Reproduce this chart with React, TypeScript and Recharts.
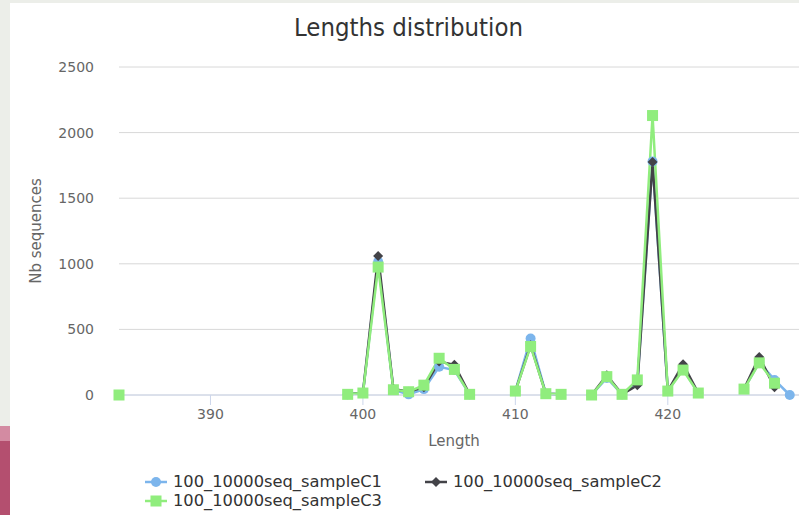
import React from "react";
import { LineChart, Line, XAxis, YAxis, CartesianGrid } from "recharts";

// lengths with a null entry wherever the original chart breaks its lines
const lengths = [384, 385, 399, 400, 401, 402, 403, 404, 405, 406, 407, 408, 410, 411, 412, 413, 414, 415, 416, 417, 418, 419, 420, 421, 422, 423, 425, 426, 427, 428];
const sampleC1 = [0, null, 5, 15, 1015, 40, 5, 45, 215, 190, 5, null, 30, 430, 10, 5, null, 0, 130, 5, 90, 1780, 30, 200, 15, null, 45, 250, 115, 0];
const sampleC2 = [0, null, 5, 15, 1060, 45, 25, 60, 255, 230, 5, null, 30, 380, 10, 5, null, 0, 150, 5, 75, 1775, 30, 235, 15, null, 45, 290, 60, null];
const sampleC3 = [0, null, 5, 15, 975, 40, 25, 75, 280, 195, 5, null, 30, 370, 10, 5, null, 0, 140, 5, 115, 2130, 30, 190, 15, null, 45, 245, 90, null];

const xTicks = [390, 400, 410, 420];
const yTicks = [0, 500, 1000, 1500, 2000, 2500];

const seriesNames = ["100_10000seq_sampleC1", "100_10000seq_sampleC2", "100_10000seq_sampleC3"];
const seriesColors = ["#7cb5ec", "#434348", "#90ed7d"];

const data = lengths.map((length, i) => ({
  length,
  c1: sampleC1[i],
  c2: sampleC2[i],
  c3: sampleC3[i],
}));

const FONT = "'DejaVu Sans', sans-serif";

function CircleDot({ cx, cy, value, index }: any) {
  if (value == null || cx == null || cy == null) return <g key={index} />;
  return <circle key={index} cx={cx} cy={cy} r={5} fill={seriesColors[0]} />;
}

function DiamondDot({ cx, cy, value, index }: any) {
  if (value == null || cx == null || cy == null) return <g key={index} />;
  const s = 5;
  return (
    <path
      key={index}
      d={`M${cx},${cy - s}L${cx + s},${cy}L${cx},${cy + s}L${cx - s},${cy}Z`}
      fill={seriesColors[1]}
    />
  );
}

function SquareDot({ cx, cy, value, index }: any) {
  if (value == null || cx == null || cy == null) return <g key={index} />;
  return <rect key={index} x={cx - 5.5} y={cy - 5.5} width={11} height={11} fill={seriesColors[2]} />;
}

function LegendSymbol({ kind, color }: { kind: number; color: string }) {
  return (
    <svg width={22} height={12} style={{ display: "block" }}>
      <line x1={0} y1={6} x2={22} y2={6} stroke={color} strokeWidth={2.5} />
      {kind === 0 && <circle cx={11} cy={6} r={5} fill={color} />}
      {kind === 1 && <path d="M11,1L16,6L11,11L6,6Z" fill={color} />}
      {kind === 2 && <rect x={5.5} y={0.5} width={11} height={11} fill={color} />}
    </svg>
  );
}

const legendPos = [
  { left: 145, top: 472 },
  { left: 425, top: 472 },
  { left: 145, top: 491 },
];

export default function App() {
  return (
    <div
      style={{
        position: "relative",
        width: 799,
        height: 515,
        overflow: "hidden",
        background: "#ffffff",
        fontFamily: FONT,
      }}
    >
      <style>{"body{margin:0}"}</style>
      {/* page background around the chart */}
      <div style={{ position: "absolute", left: 0, top: 0, width: 799, height: 3, background: "#eceee9" }} />
      <div style={{ position: "absolute", left: 0, top: 0, width: 10, height: 426, background: "#eceee9" }} />
      <div style={{ position: "absolute", left: 0, top: 426, width: 10, height: 15, background: "#d38ba2" }} />
      <div style={{ position: "absolute", left: 0, top: 441, width: 10, height: 74, background: "#b44f6f" }} />

      <div
        style={{
          position: "absolute",
          left: 14,
          top: 12,
          width: 789,
          textAlign: "center",
          fontSize: 25.5,
          fontStretch: "condensed",
          color: "#333333",
          lineHeight: "30px",
        }}
      >
        Lengths distribution
      </div>

      <div style={{ position: "absolute", left: 10, top: 3 }}>
        <LineChart width={800} height={460} data={data} margin={{ top: 64, right: 5, bottom: 0, left: 0 }}>
          <CartesianGrid vertical={false} stroke="#d8d8d8" />
          <XAxis
            dataKey="length"
            type="number"
            domain={[384, 429]}
            ticks={xTicks}
            height={68}
            tickSize={10}
            tickMargin={4}
            axisLine={{ stroke: "#ccd6eb" }}
            tickLine={{ stroke: "#ccd6eb" }}
            tick={{ fill: "#666666", fontSize: 14, fontFamily: FONT }}
          />
          <YAxis
            type="number"
            domain={[0, 2500]}
            ticks={yTicks}
            width={109}
            axisLine={false}
            tickLine={false}
            tickSize={0}
            tickMargin={25}
            tick={{ fill: "#666666", fontSize: 14, fontFamily: FONT }}
          />
          <Line
            dataKey="c1"
            stroke={seriesColors[0]}
            strokeWidth={2.5}
            dot={CircleDot}
            activeDot={false}
            isAnimationActive={false}
          />
          <Line
            dataKey="c2"
            stroke={seriesColors[1]}
            strokeWidth={2.5}
            dot={DiamondDot}
            activeDot={false}
            isAnimationActive={false}
          />
          <Line
            dataKey="c3"
            stroke={seriesColors[2]}
            strokeWidth={2.5}
            dot={SquareDot}
            activeDot={false}
            isAnimationActive={false}
          />
        </LineChart>
      </div>

      {/* axis titles */}
      <div
        style={{
          position: "absolute",
          left: 36,
          top: 231,
          transform: "translate(-50%, -50%) rotate(-90deg)",
          fontSize: 15,
          color: "#666666",
          whiteSpace: "nowrap",
        }}
      >
        Nb sequences
      </div>
      <div
        style={{
          position: "absolute",
          left: 454,
          top: 441,
          transform: "translate(-50%, -50%)",
          fontSize: 15,
          color: "#666666",
          whiteSpace: "nowrap",
        }}
      >
        Length
      </div>

      {/* legend */}
      {seriesNames.map((name, i) => (
        <div
          key={name}
          style={{
            position: "absolute",
            left: legendPos[i].left,
            top: legendPos[i].top,
            display: "flex",
            alignItems: "center",
            gap: 6,
            fontSize: 16.3,
            color: "#333333",
            lineHeight: "19px",
            whiteSpace: "nowrap",
          }}
        >
          <LegendSymbol kind={i} color={seriesColors[i]} />
          <span>{name}</span>
        </div>
      ))}
    </div>
  );
}
